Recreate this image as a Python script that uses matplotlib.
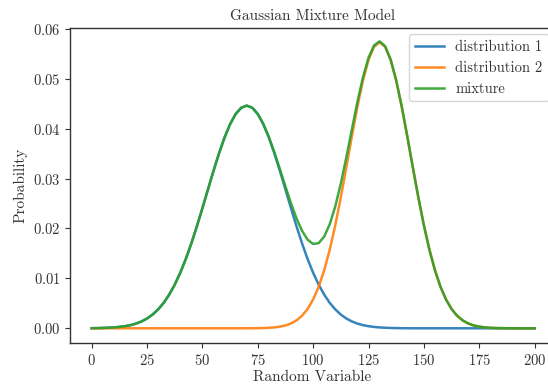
import numpy as np
import matplotlib
matplotlib.use('Agg')
import matplotlib.pyplot as plt

# sample positions along the random variable axis
x = np.linspace(0, 200, 81)

dist1 = [
    0.00002, 0.00004, 0.00007, 0.00011, 0.00017, 0.00027, 0.00042, 0.00063,
    0.00094, 0.00137, 0.00196, 0.00275, 0.00378, 0.00509, 0.00674, 0.00874,
    0.01112, 0.01388, 0.01700, 0.02042, 0.02406, 0.02780, 0.03152, 0.03504,
    0.03822, 0.04089, 0.04291, 0.04417, 0.04460, 0.04417, 0.04291, 0.04089,
    0.03822, 0.03504, 0.03152, 0.02780, 0.02406, 0.02042, 0.01700, 0.01388,
    0.01112, 0.00874, 0.00674, 0.00509, 0.00378, 0.00275, 0.00196, 0.00137,
    0.00094, 0.00063, 0.00042, 0.00027, 0.00017, 0.00011, 0.00007, 0.00004,
    0.00002, 0.00001, 0.0, 0.0, 0.0, 0.0, 0.0, 0.0, 0.0, 0.0,
    0.0, 0.0, 0.0, 0.0, 0.0, 0.0, 0.0, 0.0, 0.0, 0.0, 0.0, 0.0, 0.0, 0.0, 0.0,
]

dist2 = [
    0.0, 0.0, 0.0, 0.0, 0.0, 0.0, 0.0, 0.0, 0.0, 0.0, 0.0, 0.0, 0.0, 0.0,
    0.0, 0.0, 0.0, 0.0, 0.0, 0.0, 0.0, 0.0, 0.0, 0.0, 0.0, 0.0, 0.0, 0.0,
    0.00001, 0.00001, 0.00003, 0.00005, 0.00010, 0.00018, 0.00033, 0.00057,
    0.00097, 0.00159, 0.00252, 0.00387, 0.00577, 0.00832, 0.01163, 0.01575,
    0.02065, 0.02623, 0.03228, 0.03846, 0.04440, 0.04964, 0.05376, 0.05639,
    0.05730, 0.05639, 0.05376, 0.04964, 0.04440, 0.03846, 0.03228, 0.02623,
    0.02065, 0.01575, 0.01163, 0.00832, 0.00577, 0.00387, 0.00252, 0.00159,
    0.00097, 0.00057, 0.00033, 0.00018, 0.00010, 0.00005, 0.00003, 0.00001,
    0.00001, 0.0, 0.0, 0.0, 0.0,
]

mixture = [
    0.00002, 0.00004, 0.00007, 0.00011, 0.00017, 0.00027, 0.00042, 0.00063,
    0.00094, 0.00137, 0.00196, 0.00275, 0.00378, 0.00509, 0.00674, 0.00874,
    0.01112, 0.01388, 0.01700, 0.02042, 0.02406, 0.02780, 0.03152, 0.03504,
    0.03822, 0.04089, 0.04291, 0.04417, 0.04461, 0.04418, 0.04294, 0.04094,
    0.03832, 0.03522, 0.03185, 0.02837, 0.02503, 0.02201, 0.01952, 0.01775,
    0.01689, 0.01706, 0.01837, 0.02084, 0.02443, 0.02898, 0.03424, 0.03983,
    0.04534, 0.05027, 0.05418, 0.05666, 0.05747, 0.05650, 0.05383, 0.04968,
    0.04442, 0.03847, 0.03228, 0.02623, 0.02065, 0.01575, 0.01163, 0.00832,
    0.00577, 0.00387, 0.00252, 0.00159, 0.00097, 0.00057, 0.00033, 0.00018,
    0.00010, 0.00005, 0.00003, 0.00001, 0.00001, 0.0, 0.0, 0.0, 0.0,
]

labels = ['distribution 1', 'distribution 2', 'mixture']
colors = ['#1f77b4', '#ff7f0e', '#2ca02c']


def main():
    fig = plt.figure(figsize=(5.48, 3.87), dpi=100)
    # the right side of the axes runs past the picture edge, as in the source
    ax = fig.add_axes([0.1277, 0.113, 0.884, 0.814])

    for series, label, color in zip([dist1, dist2, mixture], labels, colors):
        ax.plot(x, series, color=color, lw=1.8, label=label,
                solid_joinstyle='round', alpha=0.9)

    ax.set_xlim(-9.8, 208.95)
    ax.set_ylim(-0.003, 0.0601)
    ax.set_title('Gaussian Mixture Model', fontsize=11)
    ax.set_xlabel('Random Variable', fontsize=11, labelpad=2)
    ax.set_ylabel('Probability', fontsize=11)
    ax.set_xticks(np.arange(0, 201, 25))
    ax.set_yticks(np.arange(0, 0.061, 0.01))
    ax.tick_params(labelsize=10.5, color='#333333', labelcolor='#333333')
    for spine in ax.spines.values():
        spine.set_color('#333333')
        spine.set_linewidth(1.0)

    ax.legend(loc='upper right', fontsize=10.5, handlelength=2.0,
              borderaxespad=0.4)
    fig.savefig('out.png', dpi=100)


if __name__ == '__main__':
    plt.rcParams['font.family'] = 'cmr10'
    plt.rcParams['axes.formatter.use_mathtext'] = True
    plt.rcParams['mathtext.fontset'] = 'cm'
    plt.rcParams['text.color'] = '#333333'
    plt.rcParams['axes.labelcolor'] = '#333333'
    main()
